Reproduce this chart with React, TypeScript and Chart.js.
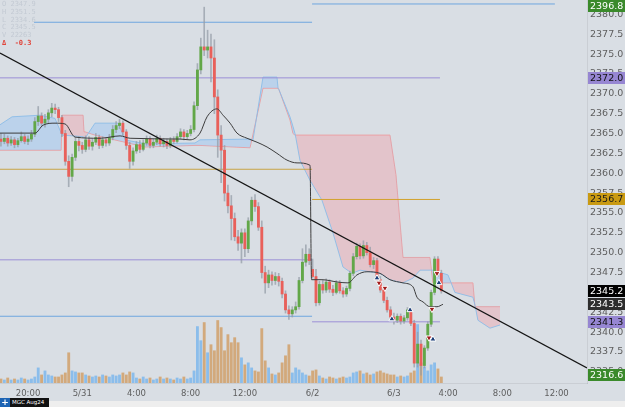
import React, { useEffect, useRef } from 'react';
import { Chart, registerables } from 'chart.js';

Chart.register(...registerables);

// ---------- DATA ----------
// 15-minute bars; time axis in trading hours (0 = 5/31 00:00, 17 = 6/2 18:00 session open)
const sessionStarts = [-6, 17];
const sessionBars = [92, 39];
const barHours = 0.25;

const open = [
  2364.3, 2364.0, 2364.4, 2363.8, 2364.2, 2363.6, 2364.1, 2364.6, 2364.0, 2364.3,
  2364.9, 2366.5, 2367.2, 2366.3, 2366.8, 2367.6, 2368.2, 2368.0, 2367.0, 2365.0,
  2361.5, 2359.6, 2362.0, 2364.0, 2363.5, 2363.0, 2364.2, 2363.4, 2363.9, 2364.5,
  2363.5, 2364.2, 2363.8, 2364.5, 2365.5, 2366.0, 2366.3, 2365.2, 2363.5, 2361.5,
  2362.8, 2363.6, 2363.0, 2363.8, 2364.3, 2363.5, 2363.9, 2364.4, 2363.7, 2364.0,
  2363.5, 2364.2, 2364.0, 2364.6, 2365.2, 2364.6, 2365.0, 2365.5, 2368.5, 2373.0,
  2375.9, 2375.5, 2375.9, 2374.5, 2369.6, 2364.8, 2362.9, 2357.5, 2355.9, 2354.3,
  2352.0, 2351.2, 2352.5, 2350.5, 2354.0, 2356.6, 2355.8, 2353.2, 2347.5, 2346.2,
  2347.2, 2346.5, 2347.0, 2346.4, 2344.8, 2342.8, 2342.3, 2342.8, 2343.2, 2346.5,
  2348.8, 2349.8,
  2347.9, 2347.0, 2343.7, 2346.0, 2345.3, 2346.3, 2345.4, 2345.0,
  2346.2, 2345.2, 2344.8, 2345.5, 2347.4, 2349.5, 2350.8, 2349.6, 2350.9, 2350.0,
  2348.5, 2349.0, 2346.6, 2345.3, 2344.0, 2342.8, 2341.9, 2341.5, 2342.0, 2341.4,
  2341.8, 2342.8, 2341.1, 2336.1, 2338.5, 2335.8, 2338.0, 2341.0, 2345.0, 2349.2,
  2347.4,
];
const high = [
  2365.0, 2364.9, 2364.7, 2364.6, 2364.5, 2364.4, 2365.2, 2364.9, 2364.7, 2365.4,
  2367.0, 2368.4, 2367.6, 2367.4, 2368.0, 2368.8, 2368.7, 2368.3, 2367.3, 2365.4,
  2362.2, 2362.4, 2364.5, 2364.6, 2363.9, 2364.7, 2364.6, 2364.3, 2365.0, 2364.8,
  2364.6, 2364.5, 2364.9, 2366.0, 2366.5, 2366.8, 2366.6, 2365.5, 2363.9, 2363.2,
  2364.0, 2364.1, 2364.2, 2364.7, 2364.6, 2364.3, 2364.8, 2364.7, 2364.4, 2364.3,
  2364.5, 2364.6, 2365.0, 2365.6, 2365.5, 2365.4, 2366.0, 2369.0, 2373.8, 2377.0,
  2380.9, 2378.0, 2377.5, 2376.8, 2370.5, 2366.0, 2363.5, 2358.5, 2357.2, 2355.0,
  2352.8, 2353.0, 2353.0, 2354.4, 2357.0, 2357.3, 2356.3, 2354.0, 2348.3, 2347.8,
  2347.6, 2347.5, 2347.4, 2346.8, 2345.2, 2343.3, 2343.2, 2343.8, 2346.9, 2350.5,
  2351.0, 2350.5,
  2349.2, 2347.9, 2346.4, 2346.5, 2346.7, 2346.6, 2345.9, 2346.5,
  2346.5, 2345.6, 2345.8, 2347.7, 2349.9, 2351.2, 2351.1, 2351.5, 2351.3, 2350.7,
  2349.4, 2349.3, 2347.0, 2345.8, 2344.4, 2343.2, 2342.4, 2342.3, 2342.3, 2342.1,
  2343.1, 2343.0, 2341.5, 2340.0, 2339.0, 2338.3, 2341.3, 2345.3, 2349.5, 2349.5,
  2347.8,
];
const low = [
  2363.4, 2363.7, 2363.4, 2363.5, 2363.2, 2363.3, 2363.9, 2363.7, 2363.6, 2364.0,
  2364.6, 2366.0, 2365.9, 2365.8, 2366.3, 2367.1, 2367.5, 2366.5, 2364.6, 2361.0,
  2358.3, 2359.0, 2361.6, 2362.8, 2362.5, 2362.7, 2363.0, 2362.9, 2363.6, 2363.1,
  2363.2, 2363.4, 2363.5, 2364.2, 2365.1, 2365.6, 2364.8, 2363.0, 2360.6, 2361.0,
  2362.5, 2362.6, 2362.8, 2363.5, 2363.2, 2363.2, 2363.6, 2363.4, 2363.3, 2363.1,
  2363.2, 2363.7, 2363.8, 2364.3, 2364.2, 2364.3, 2364.7, 2365.2, 2368.0, 2372.5,
  2374.8, 2374.5, 2371.5, 2367.5, 2362.0, 2358.8, 2356.5, 2355.0, 2351.6, 2351.5,
  2350.3, 2348.7, 2349.5, 2350.0, 2353.5, 2355.2, 2352.8, 2346.8, 2344.9, 2345.6,
  2345.9, 2346.0, 2345.8, 2344.3, 2342.4, 2341.6, 2341.9, 2342.4, 2342.9, 2346.2,
  2348.3, 2348.5,
  2346.8, 2343.3, 2343.4, 2344.9, 2345.0, 2345.0, 2344.6, 2344.8,
  2344.9, 2344.4, 2344.5, 2345.2, 2347.1, 2349.2, 2349.2, 2349.3, 2349.7, 2348.2,
  2348.0, 2346.3, 2345.0, 2343.7, 2342.5, 2341.6, 2341.0, 2341.2, 2341.0, 2341.1,
  2341.5, 2340.8, 2335.6, 2335.6, 2334.6, 2335.5, 2337.7, 2340.7, 2344.7, 2347.0,
  2344.9,
];
const close = [
  2364.0, 2364.4, 2363.8, 2364.2, 2363.6, 2364.1, 2364.6, 2364.0, 2364.3, 2364.9,
  2366.5, 2367.2, 2366.3, 2366.8, 2367.6, 2368.2, 2368.0, 2367.0, 2365.0, 2361.5,
  2359.6, 2362.0, 2364.0, 2363.5, 2363.0, 2364.2, 2363.4, 2363.9, 2364.5, 2363.5,
  2364.2, 2363.8, 2364.5, 2365.5, 2366.0, 2366.3, 2365.2, 2363.5, 2361.5, 2362.8,
  2363.6, 2363.0, 2363.8, 2364.3, 2363.5, 2363.9, 2364.4, 2363.7, 2364.0, 2363.5,
  2364.2, 2364.0, 2364.6, 2365.2, 2364.6, 2365.0, 2365.5, 2368.5, 2373.0, 2375.9,
  2375.5, 2375.9, 2374.5, 2369.6, 2364.8, 2362.9, 2357.5, 2355.9, 2354.3, 2352.0,
  2351.2, 2352.5, 2350.5, 2354.0, 2356.6, 2355.8, 2353.2, 2347.5, 2346.2, 2347.2,
  2346.5, 2347.0, 2346.4, 2344.8, 2342.8, 2342.3, 2342.8, 2343.2, 2346.5, 2348.8,
  2349.8, 2349.0,
  2347.0, 2343.7, 2346.0, 2345.3, 2346.3, 2345.4, 2345.0, 2346.2,
  2345.2, 2344.8, 2345.5, 2347.4, 2349.5, 2350.8, 2349.6, 2350.9, 2350.0, 2348.5,
  2349.0, 2346.6, 2345.3, 2344.0, 2342.8, 2341.9, 2341.5, 2342.0, 2341.4, 2341.8,
  2342.8, 2341.1, 2336.1, 2338.5, 2335.8, 2338.0, 2341.0, 2345.0, 2349.2, 2347.4,
  2345.2,
];
// volume (hundreds of contracts)
const volume = [
  4, 3, 5, 3, 4, 3, 5, 4, 3, 4,
  6, 15, 8, 12, 8, 7, 6, 6, 8, 10,
  30, 12, 11, 10, 10, 8, 7, 6, 7, 6,
  8, 7, 6, 8, 7, 8, 10, 8, 11, 10,
  5, 4, 6, 4, 5, 3, 4, 6, 4, 5,
  4, 3, 5, 4, 6, 4, 5, 12, 56, 42,
  60, 30, 38, 32, 62, 55, 32, 48, 40, 45,
  40, 25, 18, 20, 15, 12, 11, 54, 22, 15,
  9, 8, 10, 20, 27, 38, 10, 15, 13, 10,
  8, 7,
  12, 13, 7, 5, 4, 6, 5, 4,
  5, 6, 5, 6, 10, 11, 12, 9, 10, 8,
  9, 11, 12, 10, 9, 8, 8, 6, 7, 6,
  7, 10, 12, 58, 20, 16, 12, 18, 20, 14,
  6,
];

// Ichimoku cloud (leading spans), sampled at these hours
const cloudHours = [
  -6.07, -5.18, -3.11, -2.01, -1.64, -1.56, -1.49, 0.06, 0.13, 0.21,
  0.94, 2.64, 3.16, 4.63, 8.32, 8.69, 12.38, 12.6, 13.34, 14.37,
  14.45, 14.52, 15.33, 15.55, 15.7, 15.77, 16.07, 16.81, 17.69, 18.5,
  19.24, 19.91, 20.5, 21.97, 22.71, 23.15, 23.67, 24.41, 24.93, 25.66,
  25.88, 26.99, 27.5, 28.83, 28.98, 29.2, 30.09, 30.83,
];
const spanA = [
  2366.1, 2367.1, 2367.3, 2366.9, 2365.4, 2365.1, 2364.8, 2364.6, 2364.5, 2364.4,
  2366.3, 2366.3, 2364.2, 2363.7, 2363.8, 2364.2, 2364.3, 2364.2, 2372.1, 2372.1,
  2370.7, 2370.5, 2367.1, 2365.9, 2365.0, 2364.4, 2361.6, 2359.1, 2356.6, 2352.5,
  2348.2, 2347.4, 2347.8, 2347.4, 2346.6, 2346.4, 2346.2, 2346.8, 2347.8, 2347.8,
  2347.8, 2347.2, 2345.0, 2344.4, 2343.4, 2341.5, 2340.5, 2340.9,
];
const spanB = [
  2362.9, 2362.9, 2362.9, 2362.9, 2362.9, 2362.9, 2367.3, 2367.3, 2365.2, 2365.2,
  2364.8, 2364.1, 2363.9, 2363.3, 2363.5, 2363.5, 2363.2, 2364.9, 2370.7, 2370.7,
  2370.7, 2370.5, 2366.7, 2365.0, 2364.8, 2364.8, 2364.8, 2364.8, 2364.8, 2364.8,
  2364.8, 2364.8, 2364.8, 2364.8, 2364.8, 2359.8, 2349.4, 2349.4, 2349.4, 2349.4,
  2346.2, 2346.2, 2346.2, 2346.2, 2343.2, 2343.2, 2343.2, 2343.2,
];

// moving average
const maHours = [
  -6.07, -3.48, -2.89, -2.01, -1.27, -0.53, 1.31, 2.79, 3.53, 7.22,
  7.95, 8.69, 9.21, 9.94, 10.39, 10.91, 11.42, 12.16, 12.9, 13.64,
  14.37, 15.11, 15.85, 16.81, 16.92, 17.69, 18.87, 19.61, 20.27, 21.01,
  21.97, 22.71, 23.67, 24.41, 24.7, 25.15, 25.66, 26.18, 26.62,
];
const maValues = [
  2365.05, 2365.05, 2366.05, 2366.3, 2366.2, 2364.55, 2364.4, 2364.7, 2364.4, 2364.3,
  2364.2, 2365.05, 2367.1, 2368.1, 2367.3, 2366.3, 2365.05, 2364.4, 2363.9, 2363.3,
  2362.5, 2361.65, 2361.3, 2361.0, 2346.6, 2346.6, 2346.3, 2346.2, 2347.2, 2347.6,
  2347.4, 2346.6, 2346.2, 2345.7, 2344.4, 2343.8, 2343.2, 2343.2, 2343.5,
];

// trend line endpoints
const trendHours = [-6.07, 37.25];
const trendPrices = [2375.12, 2335.5];

// horizontal levels
const levelPrices = [2379.0, 2381.3, 2372.0, 2360.5, 2356.7, 2349.1, 2342.0, 2341.3];
const levelStarts = [-6.07, 16.96, -6.07, -6.07, 16.96, -6.07, -6.07, 16.96];
const levelEnds = [16.96, 34.88, 26.4, 16.96, 26.4, 16.96, 16.96, 26.4];
const levelColors = ['#6fa6df', '#6fa6df', '#9c8fd6', '#c8a446', '#d2a12a', '#9c8fd6', '#6fa6df', '#9c8fd6'];

// trade markers
const buyHours = [21.75, 22.85, 24.19, 25.88, 26.32];
const buyPrices = [2346.8, 2341.65, 2342.8, 2339.1, 2346.2];
const sellHours = [21.9, 22.34, 25.81, 25.59, 26.18];
const sellPrices = [2346.2, 2345.55, 2342.9, 2339.3, 2347.4];

// axis ticks
const tickHours = [-4, 0, 4, 8, 12, 17, 23, 27, 31, 35];
const tickLabels = ['20:00', '5/31', '4:00', '8:00', '12:00', '6/2', '6/3', '4:00', '8:00', '12:00'];

// price tags on the right axis
const tagValues = [2396.8, 2372.0, 2356.7, 2345.2, 2343.5, 2341.3, 2316.6];
const tagBg = ['#3a8a2b', '#9686d2', '#c99a12', '#000000', '#2e2e2e', '#9686d2', '#3a8a2b'];
const tagFg = ['#ffffff', '#111111', '#1a1a1a', '#ffffff', '#ffffff', '#111111', '#ffffff'];

const legendRows = [['O', '2347.9'], ['H', '2351.5'], ['L', '2334.6'], ['C', '2345.5'], ['V', '22263']];
const legendDelta = '-0.3';

// ---------- CHART ----------
const BG = '#d9dee4';
const UP = '#62a748';
const DOWN = '#e9605a';

const barTimes: number[] = [];
sessionStarts.forEach((s, k) => {
  for (let i = 0; i < sessionBars[k]; i++) barTimes.push(s + i * barHours);
});

const tagPlugin = {
  id: 'priceTags',
  afterDraw(chart: any) {
    const { ctx, chartArea, scales } = chart;
    const ys = scales.y;
    ctx.save();
    ctx.font = '9.5px "DejaVu Sans"';
    ctx.textBaseline = 'middle';
    tagValues.forEach((v, i) => {
      let py = ys.getPixelForValue(v);
      py = Math.max(chartArea.top + 6, Math.min(chartArea.bottom - 8, py));
      ctx.fillStyle = tagBg[i];
      ctx.fillRect(chartArea.right + 1, Math.round(py - 6), 40, 12);
      ctx.fillStyle = tagFg[i];
      ctx.fillText(v.toFixed(1), chartArea.right + 3, py + 0.5);
    });
    ctx.restore();
  },
};

export default function App() {
  const ref = useRef<HTMLCanvasElement>(null);

  useEffect(() => {
    document.body.style.margin = '0';
    const canvas = ref.current!;
    const isUp = (i: number) => close[i] >= open[i];

    const datasets: any[] = [];
    datasets.push({
      type: 'line', data: buyHours.map((t, i) => ({ x: t, y: buyPrices[i] })), showLine: false,
      pointStyle: 'triangle', pointRadius: 3.5, backgroundColor: '#1d3f7a', borderColor: '#ffffff', borderWidth: 1, order: 0,
    });
    datasets.push({
      type: 'line', data: sellHours.map((t, i) => ({ x: t, y: sellPrices[i] })), showLine: false,
      pointStyle: 'triangle', rotation: 180, pointRadius: 3.5, backgroundColor: '#a11d1d', borderColor: '#ffffff', borderWidth: 1, order: 0,
    });
    datasets.push({
      type: 'line', data: trendHours.map((t, i) => ({ x: t, y: trendPrices[i] })),
      borderColor: '#151515', borderWidth: 1.2, pointRadius: 0, order: 1,
    });
    datasets.push({
      type: 'line', data: maHours.map((t, i) => ({ x: t, y: maValues[i] })),
      borderColor: '#3c3c3c', borderWidth: 1, pointRadius: 0, cubicInterpolationMode: 'monotone', order: 2,
    });
    datasets.push({
      type: 'bar', data: barTimes.map((t, i) => ({ x: t, y: [open[i], close[i]] })),
      backgroundColor: (c: any) => (isUp(c.dataIndex) ? UP : DOWN), barThickness: 2.2, minBarLength: 1,
      grouped: false, order: 3,
    });
    datasets.push({
      type: 'bar', data: barTimes.map((t, i) => ({ x: t, y: [low[i], high[i]] })),
      backgroundColor: 'rgba(150,158,168,0.75)', barThickness: 1, grouped: false, order: 4,
    });
    levelPrices.forEach((p, i) => {
      datasets.push({
        type: 'line', data: [{ x: levelStarts[i], y: p }, { x: levelEnds[i], y: p }],
        borderColor: levelColors[i], borderWidth: 1, pointRadius: 0, order: 5,
      });
    });
    const spanBIndex = datasets.length + 1;
    datasets.push({
      type: 'line', data: cloudHours.map((t, i) => ({ x: t, y: spanA[i] })),
      borderColor: 'rgba(140,188,232,0.9)', borderWidth: 1, pointRadius: 0,
      fill: { target: spanBIndex, above: 'rgba(150,195,245,0.45)', below: 'rgba(240,160,170,0.42)' }, order: 6,
    });
    datasets.push({
      type: 'line', data: cloudHours.map((t, i) => ({ x: t, y: spanB[i] })),
      borderColor: 'rgba(236,150,150,0.85)', borderWidth: 1, pointRadius: 0, order: 6,
    });
    datasets.push({
      type: 'bar', yAxisID: 'vol', data: barTimes.map((t, i) => ({ x: t, y: volume[i] })),
      backgroundColor: (c: any) => (isUp(c.dataIndex) ? 'rgba(135,188,235,0.95)' : 'rgba(210,166,118,0.95)'),
      barThickness: 2.2, grouped: false, order: 7,
    });

    const chart = new Chart(canvas, {
      type: 'line',
      data: { datasets },
      options: {
        responsive: false,
        animation: false,
        devicePixelRatio: 1,
        layout: { padding: 0, autoPadding: false },
        plugins: { legend: { display: false }, tooltip: { enabled: false } },
        scales: {
          x: {
            type: 'linear', min: -6.07, max: 37.25, offset: false,
            grid: { display: false, drawTicks: false },
            border: { display: true, color: 'rgba(0,0,0,0.07)' },
            afterBuildTicks: (s: any) => { s.ticks = tickHours.map((v) => ({ value: v })); },
            afterFit: (s: any) => { s.height = 18; s.paddingLeft = 0; s.paddingRight = 0; },
            ticks: {
              autoSkip: false, maxRotation: 0, padding: 6, color: '#5e5e5e',
              font: { family: 'DejaVu Sans', size: 8.5 },
              callback: (v: any) => { const i = tickHours.indexOf(Number(v)); return i >= 0 ? tickLabels[i] : ''; },
            },
          },
          y: {
            type: 'linear', position: 'right', min: 2333.6, max: 2381.8,
            grid: { display: false, drawTicks: false },
            border: { display: true, color: 'rgba(0,0,0,0.07)' },
            afterFit: (s: any) => { s.width = 38; s.paddingTop = 0; s.paddingBottom = 0; },
            ticks: {
              stepSize: 2.5, includeBounds: false, padding: 3, color: '#5e5e5e',
              font: { family: 'DejaVu Sans', size: 9.5 },
              callback: (v: any) => Number(v).toFixed(1),
            },
          },
          vol: { type: 'linear', display: false, min: 0, max: 380 },
        },
      } as any,
      plugins: [tagPlugin],
    });
    return () => chart.destroy();
  }, []);

  const legendStyle: React.CSSProperties = {
    position: 'absolute', left: 0, top: 0, width: 34, height: 49, background: BG,
    fontFamily: '"DejaVu Sans Mono", monospace', fontSize: 7, lineHeight: '7.8px',
    color: '#c3cad3', paddingLeft: 2, paddingTop: 1, whiteSpace: 'pre', boxSizing: 'border-box',
  };

  return (
    <div style={{ position: 'absolute', left: 0, top: 0, width: 625, height: 407, background: '#eeeeee', overflow: 'hidden' }}>
      <canvas ref={ref} width={625} height={401} style={{ display: 'block', width: 625, height: 401, background: BG }} />
      <div style={legendStyle}>
        {legendRows.map((r) => (
          <div key={r[0]}>{r[0] + ' ' + r[1]}</div>
        ))}
        <div style={{ color: '#e0443a', fontWeight: 'bold' }}>{'\u0394  ' + legendDelta}</div>
      </div>
      <div style={{ position: 'absolute', left: 0, top: 398, width: 10, height: 9, background: '#1d64b4', color: '#fff',
        fontFamily: 'DejaVu Sans', fontSize: 9, lineHeight: '9px', textAlign: 'center', fontWeight: 'bold' }}>+</div>
      <div style={{ position: 'absolute', left: 10, top: 398, width: 39, height: 9, background: '#111', color: '#fff',
        fontFamily: 'DejaVu Sans', fontSize: 5.5, lineHeight: '9px', paddingLeft: 2, boxSizing: 'border-box', whiteSpace: 'pre' }}>MGC Aug24</div>
    </div>
  );
}
